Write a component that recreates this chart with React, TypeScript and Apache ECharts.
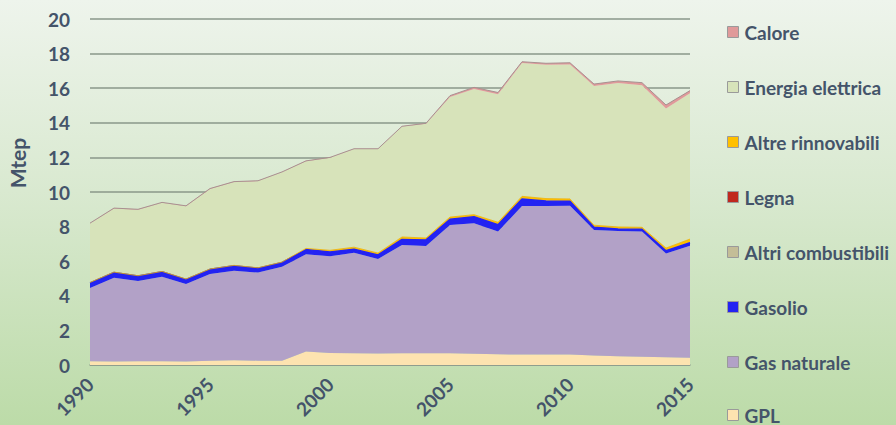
import React, { useEffect, useRef } from "react";
import * as echarts from "echarts";

const years = [
  "1990","1991","1992","1993","1994","1995","1996","1997","1998","1999",
  "2000","2001","2002","2003","2004","2005","2006","2007","2008","2009",
  "2010","2011","2012","2013","2014","2015",
];

const gpl = [0.22,0.2,0.22,0.22,0.2,0.25,0.27,0.25,0.25,0.78,0.7,0.68,0.67,0.68,0.68,0.68,0.65,0.62,0.6,0.6,0.6,0.55,0.5,0.48,0.45,0.42];
const gasNaturale = [4.23,4.85,4.64,4.88,4.48,5.01,5.18,5.09,5.43,5.62,5.58,5.81,5.46,6.26,6.2,7.41,7.54,7.09,8.59,8.59,8.61,7.25,7.25,7.24,6.0,6.48];
const gasolio = [0.3,0.3,0.28,0.29,0.27,0.27,0.29,0.26,0.25,0.27,0.25,0.2,0.23,0.32,0.35,0.33,0.38,0.4,0.41,0.29,0.25,0.16,0.11,0.12,0.15,0.17];
const altriCombustibili = [0.01,0.01,0.01,0.01,0.01,0.01,0.01,0.01,0.01,0.01,0.01,0.01,0.01,0.01,0.01,0.01,0.01,0.01,0.01,0.01,0.01,0.01,0.01,0.01,0.01,0.01];
const legna = [0.01,0.01,0.01,0.01,0.01,0.01,0.01,0.01,0.01,0.01,0.01,0.01,0.01,0.01,0.01,0.01,0.01,0.01,0.01,0.01,0.01,0.01,0.01,0.01,0.01,0.01];
const altreRinnovabili = [0,0,0,0,0,0,0,0,0,0.05,0.08,0.1,0.09,0.12,0.09,0.11,0.1,0.12,0.13,0.12,0.12,0.1,0.1,0.1,0.14,0.19];
const energiaElettrica = [3.41,3.68,3.82,3.97,4.21,4.63,4.82,5.01,5.19,5.04,5.35,5.67,6.01,6.38,6.61,6.94,7.26,7.4,7.7,7.74,7.77,8.04,8.32,8.21,8.07,8.43];
const calore = [0.02,0.02,0.02,0.02,0.02,0.02,0.02,0.02,0.02,0.02,0.02,0.02,0.02,0.02,0.02,0.08,0.1,0.1,0.08,0.08,0.1,0.12,0.12,0.15,0.2,0.15];

const seriesDefs = [
  { name: "GPL", data: gpl, color: "#fde3b0", line: 0, lineColor: "#fde3b0" },
  { name: "Gas naturale", data: gasNaturale, color: "#b2a1c7", line: 0, lineColor: "#b2a1c7" },
  { name: "Gasolio", data: gasolio, color: "#2323f2", line: 1.5, lineColor: "#2323f2" },
  { name: "Altri combustibili", data: altriCombustibili, color: "#c4bd97", line: 0, lineColor: "#c4bd97" },
  { name: "Legna", data: legna, color: "#c0281e", line: 0, lineColor: "#c0281e" },
  { name: "Altre rinnovabili", data: altreRinnovabili, color: "#ffc000", line: 0.8, lineColor: "#f0b000" },
  { name: "Energia elettrica", data: energiaElettrica, color: "#d7e3ba", line: 0, lineColor: "#d7e3ba" },
  { name: "Calore", data: calore, color: "#e09a9a", line: 1, lineColor: "#a89090" },
];

const legendOrder = ["Calore","Energia elettrica","Altre rinnovabili","Legna","Altri combustibili","Gasolio","Gas naturale","GPL"];
const legendY = [32, 87, 142, 197, 252, 307, 362, 415];

const textColor = "#44546a";
const fontFamily = "Lato, 'Open Sans', sans-serif";

export default function App() {
  const ref = useRef<HTMLDivElement>(null);
  useEffect(() => {
    if (!ref.current) return;
    const chart = echarts.init(ref.current, null, { renderer: "svg" });
    chart.setOption({
      animation: false,
      backgroundColor: "transparent",
      textStyle: { fontFamily },
      grid: { left: 90, right: 206, top: 19, bottom: 60, containLabel: false },
      legend: legendOrder.map((n, i) => ({
        data: [n],
        left: 727,
        top: legendY[i] - 10,
        padding: 0,
        orient: "vertical",
        itemWidth: 11,
        itemHeight: 11,
        itemGap: 0,
        icon: "rect",
        selectedMode: false,
        itemStyle: { borderColor: "#9a9a9a", borderWidth: 1 },
        textStyle: { color: textColor, fontWeight: "bold", fontSize: 19, lineHeight: 20, fontFamily, padding: [0, 0, 0, 1] },
      })),
      graphic: [
        {
          type: "text",
          x: 17.5,
          y: 163,
          rotation: Math.PI / 2,
          style: {
            text: "Mtep",
            fill: textColor,
            font: "bold 21px Lato, 'Open Sans', sans-serif",
            align: "center",
            verticalAlign: "middle",
          },
        },
      ],
      xAxis: {
        type: "category",
        data: years,
        boundaryGap: false,
        axisLine: { show: true, lineStyle: { color: "#8c9a8c", width: 1.5 } },
        axisTick: { show: false },
        axisLabel: {
          interval: 4,
          rotate: 45,
          margin: 16,
          color: textColor,
          fontWeight: "bold",
          fontSize: 19,
          fontFamily,
        },
      },
      yAxis: {
        type: "value",
        min: 0,
        max: 20,
        interval: 2,
        axisLine: { show: false },
        axisTick: { show: false },
        axisLabel: { color: textColor, fontWeight: "bold", fontSize: 19, margin: 20, fontFamily },
        splitLine: { lineStyle: { color: "#8a978a", width: 1.5 } },
      },
      series: seriesDefs.map((s) => ({
        name: s.name,
        type: "line",
        stack: "total",
        data: s.data,
        symbol: "none",
        color: s.color,
        itemStyle: { color: s.color },
        lineStyle: { width: s.line, color: s.lineColor },
        areaStyle: { color: s.color, opacity: 1 },
      })),
    });
    return () => chart.dispose();
  }, []);
  return (
    <div
      style={{
        position: "fixed",
        left: 0,
        top: 0,
        width: 896,
        height: 425,
        background: "linear-gradient(to bottom, #eef4ec 0%, #d9e9d0 45%, #bcdba8 100%)",
      }}
    >
      <div ref={ref} style={{ width: 896, height: 425 }} />
    </div>
  );
}
